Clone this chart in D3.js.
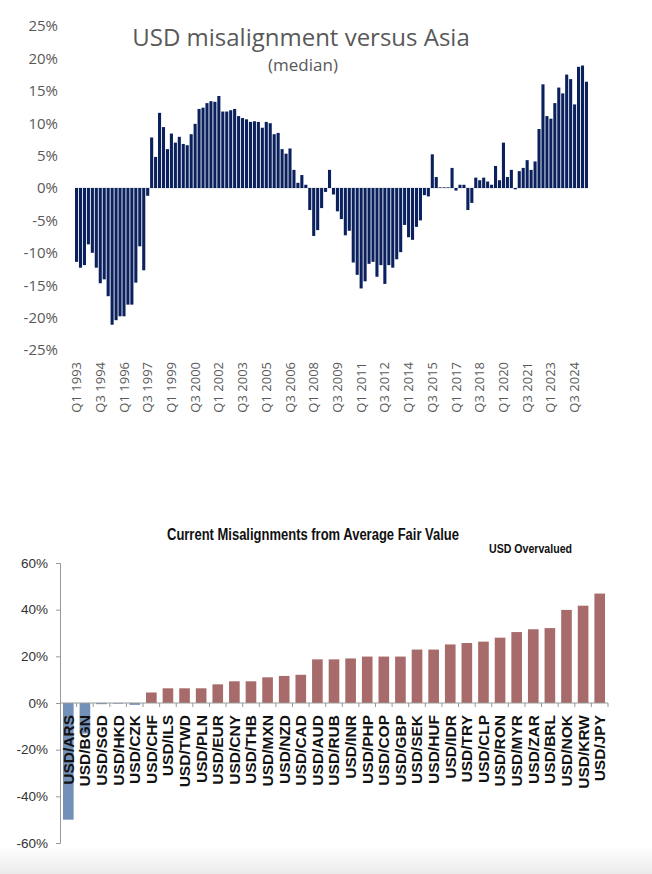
<!DOCTYPE html>
<html>
<head>
<meta charset="utf-8">
<script src="https://cdn.jsdelivr.net/npm/d3@7"></script>
<style>
  body { margin: 0; background: #fff; }
  svg { display: block; }
</style>
</head>
<body>
<svg id="chart"></svg>
<script>
const chartWidth = 652;
const chartHeight = 874;

// top chart: quarterly median misalignment, Q1 1993 .. Q2 2025
const START_YEAR = 1993;
const TICK_EVERY = 6;
const MEDIAN_MISALIGNMENT = [
    -11.4, -12.3, -11.9, -8.7, -10.0, -12.3, -14.7, -14.1, -16.7, -21.1,
    -20.4, -19.8, -19.8, -18.0, -18.0, -14.6, -9.0, -12.7, -1.2,
    7.8, 4.8, 11.6, 9.4, 6.0, 8.4, 7.0, 7.9, 6.8, 6.6, 8.3, 9.9, 12.2,
    12.4, 13.1, 13.4, 13.3, 14.2, 11.8, 11.8, 12.0, 12.2, 11.1, 10.8, 10.6,
    10.2, 10.3, 10.2, 9.3, 10.2, 10.0, 8.3, 8.5, 6.0, 5.3, 6.1, 2.8, 0.8,
    2.0, 0.5, -3.4, -7.4, -6.5, -3.1, -0.6,
    2.8, -1.0, -3.6, -4.8, -7.3, -6.6, -11.5, -13.4, -15.5, -14.4, -11.7,
    -11.4, -13.7, -11.9, -14.8, -11.9, -12.3, -11.0, -9.9, -5.7, -7.6, -8.0,
    -6.0, -5.0, -1.1, -1.3, 5.2, 1.7, 0.1, 0.1, 0.1, 3.1,
    -0.4, 0.5, 0.5, -3.4, -2.3, 1.6, 1.2, 1.6, 1.0, 0.5, 3.4, 1.2, 7.0, 1.7,
    2.8, -0.2, 2.6, 3.1, 4.3, 2.8, 4.1, 9.1, 16.0, 11.1, 10.7, 13.1, 15.5,
    14.6, 17.5, 16.8, 12.9, 18.7, 18.9, 16.4
];
const TOP_Y_TICKS = [-25, -20, -15, -10, -5, 0, 5, 10, 15, 20, 25];

// bottom chart: current misalignment per pair
const PAIRS = ["USD/ARS", "USD/BGN", "USD/SGD", "USD/HKD", "USD/CZK", "USD/CHF",
    "USD/ILS", "USD/TWD", "USD/PLN", "USD/EUR", "USD/CNY", "USD/THB", "USD/MXN",
    "USD/NZD", "USD/CAD", "USD/AUD", "USD/RUB", "USD/INR", "USD/PHP", "USD/COP",
    "USD/GBP", "USD/SEK", "USD/HUF", "USD/IDR", "USD/TRY", "USD/CLP", "USD/RON",
    "USD/MYR", "USD/ZAR", "USD/BRL", "USD/NOK", "USD/KRW", "USD/JPY"];
const PAIR_MISALIGNMENT = [-50.0, -13.1, -0.5, -0.3, -0.8, 4.5,
    6.3, 6.3, 6.3, 8.0, 9.3, 9.3, 11.0,
    11.6, 12.1, 18.7, 18.7, 19.1, 19.9, 19.9,
    19.9, 22.9, 22.9, 25.1, 25.7, 26.3, 28.0,
    30.4, 31.6, 32.1, 39.9, 41.7, 46.9];
const BOTTOM_Y_TICKS = [-60, -40, -20, 0, 20, 40, 60];

const TOP_TITLE = "USD misalignment versus Asia";
const TOP_SUBTITLE = "(median)";
const BOTTOM_TITLE = "Current Misalignments from Average Fair Value";
const BOTTOM_NOTE = "USD Overvalued";

const NAVY = "#0b215e";
const ROSE = "#a76b6b";
const STEEL = "#7390b9";
const GREY_TEXT = "#595959";
const SANS = "'Open Sans', 'DejaVu Sans', sans-serif";
const ARIAL = "'Liberation Sans', Arial, sans-serif";

let svg = d3.select("#chart")
    .attr("width", chartWidth)
    .attr("height", chartHeight);

function quarterLabels() {
    return MEDIAN_MISALIGNMENT.map((v, i) =>
        `Q${i % 4 + 1} ${START_YEAR + Math.floor(i / 4)}`);
}

function drawTopChart() {
    let quarters = quarterLabels();
    let data = quarters.map((q, i) => ({q: q, v: MEDIAN_MISALIGNMENT[i]}));

    let xScale = d3.scaleBand().domain(quarters).range([75, 588]).paddingInner(0.22);
    let yScale = d3.scaleLinear().domain([-25, 25]).range([350, 26]);

    let g = svg.append("g").attr("class", "top-chart");

    g.append("line")
        .attr("x1", 75).attr("x2", 588)
        .attr("y1", yScale(0)).attr("y2", yScale(0))
        .attr("stroke", "#d9d9d9")
        .attr("stroke-width", 1);

    g.selectAll(".q-bar")
        .data(data)
        .join("rect")
        .attr("class", "q-bar")
        .attr("x", d => xScale(d.q))
        .attr("width", xScale.bandwidth())
        .attr("y", d => yScale(Math.max(0, d.v)))
        .attr("height", d => Math.abs(yScale(d.v) - yScale(0)))
        .attr("fill", NAVY);

    // y axis: labels only, no line
    let yAxis = g.append("g")
        .attr("transform", "translate(58,0)")
        .call(d3.axisLeft(yScale).tickValues(TOP_Y_TICKS).tickSize(0).tickPadding(0)
            .tickFormat(d => d + "%"));
    yAxis.select(".domain").remove();
    yAxis.selectAll("text")
        .attr("fill", GREY_TEXT)
        .style("font-family", SANS)
        .style("font-size", "15px");

    // x axis: rotated quarter labels every 6 quarters
    let xTicks = quarters.filter((q, i) => i % TICK_EVERY === 0);
    g.selectAll(".q-label")
        .data(xTicks)
        .join("text")
        .attr("class", "q-label")
        .attr("transform", d => `translate(${xScale(d) + xScale.bandwidth() / 2}, 362) rotate(-90)`)
        .attr("text-anchor", "end")
        .attr("dy", "0.35em")
        .attr("fill", GREY_TEXT)
        .style("font-family", SANS)
        .style("font-size", "13px")
        .text(d => d);

    g.append("text")
        .attr("x", 301).attr("y", 46)
        .attr("text-anchor", "middle")
        .attr("fill", GREY_TEXT)
        .style("font-family", SANS)
        .style("font-size", "24px")
        .text(TOP_TITLE);

    g.append("text")
        .attr("x", 303).attr("y", 71)
        .attr("text-anchor", "middle")
        .attr("fill", GREY_TEXT)
        .style("font-family", SANS)
        .style("font-size", "17px")
        .text(TOP_SUBTITLE);
}

function drawBottomChart() {
    let data = PAIRS.map((p, i) => ({p: p, v: PAIR_MISALIGNMENT[i]}));

    let xScale = d3.scaleBand().domain(PAIRS).range([60, 608]).paddingInner(0.36).paddingOuter(0.18);
    let yScale = d3.scaleLinear().domain([-60, 60]).range([843, 563]);

    let g = svg.append("g").attr("class", "bottom-chart");

    g.selectAll(".pair-bar")
        .data(data)
        .join("rect")
        .attr("class", "pair-bar")
        .attr("x", d => xScale(d.p))
        .attr("width", xScale.bandwidth())
        .attr("y", d => yScale(Math.max(0, d.v)))
        .attr("height", d => Math.abs(yScale(d.v) - yScale(0)))
        .attr("fill", d => d.v < 0 ? STEEL : ROSE);

    let yAxis = g.append("g")
        .attr("transform", "translate(60,0)")
        .call(d3.axisLeft(yScale).tickValues(BOTTOM_Y_TICKS).tickSize(4).tickPadding(8)
            .tickFormat(d => d + "%"));
    yAxis.selectAll("line, path").attr("stroke", "#999");
    yAxis.selectAll("text")
        .attr("fill", "#333")
        .style("font-family", ARIAL)
        .style("font-size", "13.5px");

    // zero line with tick marks between categories
    g.append("line")
        .attr("x1", 60).attr("x2", 608)
        .attr("y1", yScale(0)).attr("y2", yScale(0))
        .attr("stroke", "#999");
    let step = xScale.step();
    g.selectAll(".cat-tick")
        .data(PAIRS)
        .join("line")
        .attr("class", "cat-tick")
        .attr("x1", d => xScale(d) + xScale.bandwidth() + (step - xScale.bandwidth()) / 2)
        .attr("x2", d => xScale(d) + xScale.bandwidth() + (step - xScale.bandwidth()) / 2)
        .attr("y1", yScale(0)).attr("y2", yScale(0) + 4)
        .attr("stroke", "#999");

    g.selectAll(".pair-label")
        .data(PAIRS)
        .join("text")
        .attr("class", "pair-label")
        .attr("transform", d => `translate(${xScale(d) + xScale.bandwidth() / 2}, 715) rotate(-90)`)
        .attr("text-anchor", "end")
        .attr("dy", "0.35em")
        .attr("fill", "#111")
        .style("font-family", ARIAL)
        .style("font-weight", "bold")
        .style("font-size", "15.5px")
        .text(d => d);

    // the original uses a condensed face; squeeze the text to its width
    g.append("text")
        .attr("x", 167).attr("y", 540)
        .attr("textLength", 292)
        .attr("lengthAdjust", "spacingAndGlyphs")
        .attr("fill", "#111")
        .style("font-family", ARIAL)
        .style("font-weight", "bold")
        .style("font-size", "16px")
        .text(BOTTOM_TITLE);

    g.append("text")
        .attr("x", 489).attr("y", 553)
        .attr("textLength", 83)
        .attr("lengthAdjust", "spacingAndGlyphs")
        .attr("fill", "#111")
        .style("font-family", ARIAL)
        .style("font-weight", "bold")
        .style("font-size", "13.5px")
        .text(BOTTOM_NOTE);
}

function drawPageShade() {
    let grad = svg.append("defs").append("linearGradient")
        .attr("id", "shade").attr("x1", 0).attr("x2", 0).attr("y1", 0).attr("y2", 1);
    grad.append("stop").attr("offset", "0%").attr("stop-color", "#fff");
    grad.append("stop").attr("offset", "100%").attr("stop-color", "#ebebeb");
    svg.append("rect")
        .attr("x", 0).attr("y", 846)
        .attr("width", chartWidth).attr("height", chartHeight - 846)
        .attr("fill", "url(#shade)");
}

drawPageShade();
drawTopChart();
drawBottomChart();
</script>
</body>
</html>
